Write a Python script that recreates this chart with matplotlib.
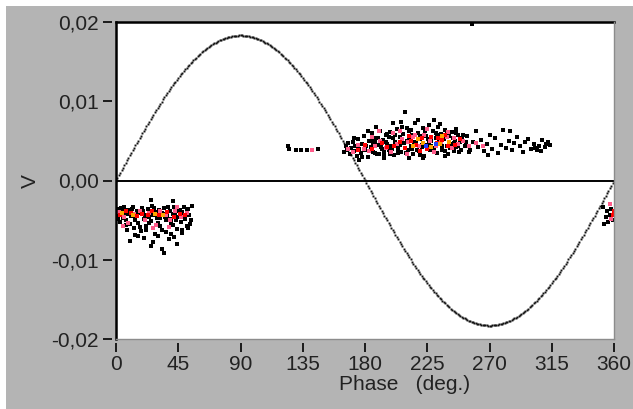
import numpy as np
import matplotlib
matplotlib.use("Agg")
import matplotlib.pyplot as plt
from matplotlib.patches import Rectangle

# ---------------- data ----------------
x_ticks = [0, 45, 90, 135, 180, 225, 270, 315, 360]
y_ticks = [0.02, 0.01, 0.0, -0.01, -0.02]
y_tick_labels = ["0,02", "0,01", "0,00", "-0,01", "-0,02"]

# model curve V = A*sin(phase)
sine_amplitude = 0.0183
sine_phase = list(range(0, 361))

# scatter points: phase (deg) and V in units of 1e-3
black_phase = [1, 2, 3, 4, 5, 6, 7, 8, 9, 10, 11, 12, 13, 14, 15, 16, 17, 18, 19, 20, 21, 22, 23, 24, 25,
               26, 27, 28, 29, 30, 31, 32, 33, 34, 35, 36, 37, 38, 39, 40, 41, 42, 43, 44, 45, 46, 47, 48,
               49, 50, 51, 52, 53, 54, 55,
               10, 14, 20, 25, 35, 40, 44, 48, 30, 22, 33, 25, 41,
               1.5, 3.5, 5.5, 7.5, 9.5, 11.5, 13.5, 15.5, 17.5, 19.5, 21.5, 23.5, 25.5, 27.5, 29.5, 31.5,
               33.5, 35.5, 37.5, 39.5, 41.5, 43.5, 45.5, 47.5, 49.5, 51.5, 53.5, 8, 16, 27, 36, 42, 52,
               352, 354, 355, 356, 357, 358, 359, 360, 353,
               124, 125, 130, 134, 138, 146,
               165, 166, 167, 168, 169, 170, 171, 172, 173, 174, 175, 176, 177, 178, 179, 180, 181, 182,
               183, 184, 185, 186, 187, 188, 189, 190, 191, 192, 193, 194, 195, 196, 197, 198, 199, 200,
               201, 202, 203, 204, 205, 206, 207, 208, 209, 210, 211, 212, 213, 214, 215, 216, 217, 218,
               219, 220, 221, 222, 223, 224, 225, 226, 227, 228, 229, 230, 231, 232, 233, 234, 235, 236,
               237, 238, 239, 240, 241, 242, 243, 244, 245, 246, 247, 248, 249, 250,
               172, 178, 186, 190, 196, 204, 210, 214, 220, 226, 232, 238, 244, 200, 188, 182, 176, 194,
               230, 222,
               185.5, 187.5, 189.5, 191.5, 193.5, 195.5, 197.5, 199.5, 201.5, 203.5, 205.5, 207.5, 209.5,
               211.5, 213.5, 215.5, 217.5, 219.5, 221.5, 223.5, 225.5, 227.5, 229.5, 231.5, 233.5, 235.5,
               237.5, 239.5, 241.5, 243.5, 245.5, 247.5, 249.5, 251, 253, 255, 198, 206, 218, 234, 246, 212,
               252, 254, 256, 258, 260, 262, 264, 266, 268, 270, 272, 274, 276, 278, 280, 282, 284, 286,
               288, 290, 292, 294, 296, 298, 300, 302, 304, 306, 308, 310, 312, 314, 303, 307, 311, 285,
               269, 257]
black_v = [-3.6, -4.4, -5.2, -3.9, -4.7, -3.4, -5.0, -4.2, -3.7, -5.5, -4.5, -3.3, -6.0, -4.8, -3.9, -5.3,
           -4.1, -6.4, -3.5, -4.9, -4.3, -5.8, -3.6, -4.6, -5.1, -3.2, -4.4, -6.8, -4.0, -5.4, -3.7, -4.7,
           -6.2, -4.2, -3.5, -5.0, -4.5, -7.4, -3.9, -4.8, -5.6, -3.3, -4.3, -6.1, -4.6, -3.7, -5.2, -4.0,
           -3.4, -4.9, -5.7, -3.6, -4.4, -5.0, -3.2,
           -7.6, -6.9, -7.2, -8.3, -9.2, -6.7, -8.0, -6.6, -7.0, -6.3, -8.6, -2.5, -2.6,
           -4.8, -3.5, -4.3, -5.6, -4.0, -3.6, -5.0, -4.4, -5.9, -3.8, -4.6, -5.3, -4.0, -3.5, -4.7, -5.8,
           -4.1, -4.6, -3.4, -5.4, -4.2, -5.0, -3.8, -6.3, -4.5, -3.8, -5.5, -6.2, -7.0, -7.8, -6.5, -7.1, -6.0,
           -3.4, -4.6, -3.9, -5.2, -4.3, -3.6, -5.0, -4.1, -5.5,
           4.3, 4.0, 3.9, 3.8, 3.9, 4.0,
           3.6, 4.3, 3.9, 4.7, 3.3, 4.1, 4.9, 3.7, 4.4, 3.1, 5.2, 4.0, 3.5, 4.6, 5.6, 3.8, 4.3, 3.0,
           5.0, 4.2, 6.0, 3.6, 4.8, 5.4, 3.3, 4.5, 6.3, 4.0, 5.1, 3.4, 5.8, 4.6, 3.8, 6.1, 4.3, 5.3,
           3.2, 4.9, 6.5, 4.1, 5.5, 3.6, 6.8, 4.7, 8.7, 5.0, 3.9, 6.2, 4.4, 5.7, 3.4, 7.2, 4.8, 6.0,
           3.7, 5.2, 4.2, 6.6, 3.1, 5.6, 4.5, 7.0, 3.8, 5.0, 6.3, 4.1, 5.4, 3.5, 6.7, 4.7, 5.9, 3.9,
           5.2, 6.4, 4.3, 3.3, 5.6, 4.6, 6.1, 3.7, 5.0, 4.2, 5.8, 3.6, 4.8, 5.3,
           5.3, 3.0, 5.0, 3.4, 5.9, 3.5, 6.6, 4.0, 3.2, 4.9, 5.8, 3.1, 4.7, 7.3, 6.8, 6.3, 2.6, 2.8,
           7.6, 2.9,
           4.6, 3.5, 5.3, 4.2, 3.7, 4.9, 5.5, 4.0, 5.7, 3.8, 4.5, 5.9, 3.5, 5.3, 6.4, 4.9, 3.9, 5.6,
           4.5, 6.2, 5.2, 4.3, 3.9, 6.0, 4.9, 4.4, 3.7, 5.9, 4.1, 5.3, 6.0, 4.4, 3.9, 5.7, 4.9, 3.6,
           3.4, 7.4, 7.6, 7.1, 6.5, 2.9,
           4.4, 5.6, 3.9, 4.8, 6.2, 4.2, 5.1, 3.7, 4.6, 5.8, 4.0, 5.3, 3.5, 4.5, 6.4, 4.1, 5.0, 3.8,
           4.7, 5.5, 4.3, 3.6, 4.9, 5.2, 4.0, 4.6, 3.9, 4.4, 5.1, 4.2, 4.8, 4.5, 4.1, 3.7, 4.6, 6.3,
           3.2, 19.7]

pink_phase = [2, 6, 9, 13, 17, 21, 24, 29, 32, 36, 39, 43, 47, 51, 5, 27, 38, 44,
              357, 358, 142,
              168, 171, 175, 179, 183, 187, 191, 195, 199, 203, 207, 211, 215, 219, 223, 227, 231, 235,
              239, 243, 247, 251, 255, 260, 265, 190, 205, 225, 240, 210, 230, 185, 200, 216, 244]
pink_v = [-4.0, -4.6, -5.3, -4.2, -3.8, -5.0, -4.1, -5.6, -3.9, -4.4, -5.0, -3.8, -4.6, -4.1, -5.8, -6.0,
          -5.9, -3.3,
          -3.0, -4.8, 3.8,
          4.0, 3.6, 4.5, 4.0, 3.7, 4.3, 5.0, 4.1, 3.6, 4.6, 5.2, 4.8, 5.5, 4.3, 5.8, 5.0, 4.4, 4.9,
          5.5, 4.1, 4.6, 5.0, 4.3, 4.7, 4.4, 6.2, 6.3, 6.5, 6.1, 3.3, 3.6, 5.5, 6.0, 5.8, 5.4]

red_phase = [3, 7, 11, 15, 19, 23, 26, 31, 37, 42, 46, 50,
             359, 360,
             175, 180, 185, 192, 196, 201, 205, 209, 213, 217, 221, 225, 228, 232, 236, 240, 245, 249,
             212, 233, 220, 238]
red_v = [-4.3, -3.9, -4.1, -4.5, -4.2, -4.4, -3.9, -4.3, -4.0, -4.6, -4.2, -4.4,
         -4.4, -3.8,
         3.9, 4.5, 4.0, 4.7, 4.2, 4.4, 4.8, 4.1, 5.0, 4.5, 5.3, 4.0, 5.5, 4.7, 5.1, 4.3, 4.5, 5.2,
         5.6, 5.3, 3.7, 5.8]

orange_phase = [4, 12, 28, 34, 215, 222, 228, 234, 241, 218, 236]
orange_v = [-4.1, -4.4, -4.2, -4.3, 4.4, 4.7, 4.2, 4.6, 4.8, 5.2, 5.6]

blue_phase = [224, 231]
blue_v = [4.3, 4.6]

# ---------------- figure ----------------
W, H = 633, 409
fig = plt.figure(figsize=(W / 100, H / 100), dpi=100, facecolor="white")
fig.patches.append(Rectangle((6 / W, 0), 1 - 6 / W, 1 - 6 / H, transform=fig.transFigure,
                             facecolor="#b4b4b4", edgecolor="none", zorder=-10))

ax = fig.add_axes([116 / W, 1 - 339 / H, (614 - 116) / W, (339 - 22) / H])
ax.set_facecolor("white")
ax.set_xlim(0, 360)
ax.set_ylim(-0.02, 0.02)

scale = 1e-3
ms = 2.3
ax.plot(sine_phase, sine_amplitude * np.sin(np.deg2rad(sine_phase)), ls="none", marker="s",
        ms=1.4, mew=0, color="#111111")
ax.axhline(0, color="black", lw=1.4, zorder=2)
ax.plot(black_phase, np.array(black_v) * scale, ls="none", marker="s", ms=ms, mew=0, color="black", zorder=3)
ax.plot(pink_phase, np.array(pink_v) * scale, ls="none", marker="s", ms=ms, mew=0, color="#ff5c8a", zorder=4)
ax.plot(red_phase, np.array(red_v) * scale, ls="none", marker="s", ms=ms, mew=0, color="#ff0000", zorder=5)
ax.plot(orange_phase, np.array(orange_v) * scale, ls="none", marker="s", ms=ms, mew=0, color="#ffa500", zorder=6)
ax.plot(blue_phase, np.array(blue_v) * scale, ls="none", marker="s", ms=ms, mew=0, color="#2040ff", zorder=7)

# frame
for s in ["top", "right", "bottom", "left"]:
    ax.spines[s].set_visible(False)
ax.spines["left"].set_position(("outward", 3))
ax.spines["bottom"].set_position(("outward", 3))
ax.axvline(0, color="black", lw=1.8, clip_on=False, zorder=8)
ax.axhline(0.02, color="black", lw=1.8, clip_on=False, zorder=8)
ax.axvline(360, color="#8c8c8c", lw=1.0, clip_on=False, zorder=8)
ax.axhline(-0.02, color="#8c8c8c", lw=1.0, clip_on=False, zorder=8)

ax.set_xticks(x_ticks)
ax.set_xticklabels([str(t) for t in x_ticks])
ax.set_yticks(y_ticks)
ax.set_yticklabels(y_tick_labels)
ax.tick_params(axis="both", direction="out", length=6.5, width=1.2, color="black",
               labelsize=15, labelcolor="#222222")
ax.tick_params(axis="x", pad=2)
ax.tick_params(axis="y", pad=3)
for lab in ax.get_xticklabels() + ax.get_yticklabels():
    lab.set_fontfamily("Liberation Sans")

fig.text(405 / W, 1 - 385 / H, "Phase   (deg.)", ha="center", va="center", fontsize=15,
         color="#222222", family="Liberation Sans")
fig.text(30 / W, 1 - 181 / H, "V", ha="center", va="center", rotation=90, fontsize=15,
         color="#222222", family="Liberation Sans")

fig.savefig("out.png", dpi=100, facecolor=fig.get_facecolor())
